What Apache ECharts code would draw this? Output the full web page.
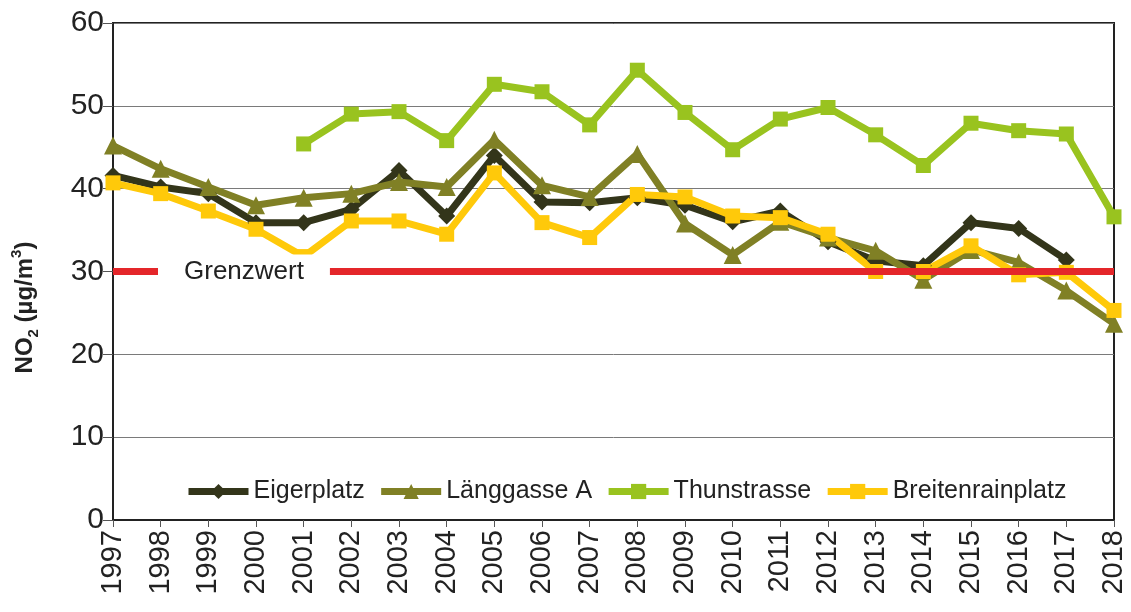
<!DOCTYPE html>
<html>
<head>
<meta charset="utf-8">
<script src="https://cdn.jsdelivr.net/npm/echarts@6/dist/echarts.min.js"></script>
<style>
  html, body { margin: 0; padding: 0; background: #fff; }
  #chart { width: 1131px; height: 612px; }
</style>
</head>
<body>
<div id="chart"></div>
<script>
const years = ['1997', '1998', '1999', '2000', '2001', '2002', '2003', '2004', '2005', '2006', '2007',
  '2008', '2009', '2010', '2011', '2012', '2013', '2014', '2015', '2016', '2017', '2018']

const eigerplatz = [41.6, 40.2, 39.4, 35.9, 35.9, 37.5, 42.2, 36.7, 44.0, 38.4, 38.3,
  38.9, 38.0, 36.0, 37.3, 33.6, 31.3, 30.7, 35.9, 35.2, 31.4, null]
const laenggasse = [45.2, 42.4, 40.2, 38.0, 38.9, 39.4, 40.8, 40.2, 45.9, 40.4, 39.0,
  44.2, 35.8, 32.0, 36.0, 34.1, 32.5, 29.0, 32.6, 31.1, 27.7, 23.7]
const thunstrasse = [null, null, null, null, 45.4, 49.0, 49.3, 45.8, 52.6, 51.7, 47.7,
  54.3, 49.2, 44.7, 48.4, 49.8, 46.5, 42.8, 47.9, 47.0, 46.6, 36.6]
const breitenrain = [40.7, 39.4, 37.3, 35.1, 31.8, 36.1, 36.1, 34.5, 41.9, 35.9, 34.1,
  39.3, 39.0, 36.7, 36.5, 34.5, 30.0, 30.0, 33.1, 29.6, 29.9, 25.3]

const grenzwert = 30

const chart = echarts.init(document.getElementById('chart'), null, { renderer: 'canvas' })

function stationSeries(name, data, color, symbol, size) {
  return {
    name: name,
    type: 'line',
    data: data,
    z: 3,
    symbol: symbol,
    symbolSize: size,
    showSymbol: true,
    connectNulls: false,
    lineStyle: { color: color, width: 7 },
    itemStyle: { color: color },
    emphasis: { disabled: true }
  }
}

const option = {
  animation: false,
  backgroundColor: '#fff',
  textStyle: { fontFamily: 'Liberation Sans, Arial, sans-serif' },
  grid: {
    left: 113,
    right: 17,
    top: 23,
    bottom: 92,
    show: true,
    borderColor: '#222',
    borderWidth: 2,
    backgroundColor: 'transparent'
  },
  legend: {
    left: 180,
    top: 474,
    itemWidth: 60,
    itemHeight: 19,
    itemGap: 13,
    data: ['Eigerplatz', 'Länggasse A', 'Thunstrasse', 'Breitenrainplatz'],
    lineStyle: { width: 7 },
    textStyle: { color: '#222', fontSize: 25 }
  },
  xAxis: {
    type: 'category',
    data: years,
    boundaryGap: false,
    axisLine: { lineStyle: { color: '#222', width: 2 } },
    axisTick: { show: true, length: 7, alignWithLabel: true, lineStyle: { color: '#555' } },
    axisLabel: { rotate: 90, color: '#222', fontSize: 29, margin: 10, interval: 0 },
    splitLine: { show: false }
  },
  yAxis: {
    type: 'value',
    min: 0,
    max: 60,
    interval: 10,
    name: 'NO{sub|2} (µg/m{sup|3})',
    nameLocation: 'middle',
    nameRotate: 90,
    nameGap: 72,
    nameTextStyle: {
      color: '#222',
      fontSize: 24,
      fontWeight: 'bold',
      lineHeight: 32,
      padding: [0, 72, 0, 0],
      rich: {
        sub: { fontSize: 15, fontWeight: 'bold', lineHeight: 15, verticalAlign: 'bottom', color: '#222' },
        sup: { fontSize: 15, fontWeight: 'bold', lineHeight: 15, verticalAlign: 'top', color: '#222' }
      }
    },
    axisLine: { show: true, lineStyle: { color: '#222', width: 2 } },
    axisTick: { show: true, length: 10, lineStyle: { color: '#555' } },
    axisLabel: { color: '#222', fontSize: 30, margin: 9 },
    splitLine: { show: true, lineStyle: { color: '#7a7a7a', width: 1 } }
  },
  series: [
    {
      name: 'Grenzwert',
      type: 'line',
      data: [],
      z: 1,
      markLine: {
        silent: true,
        symbol: 'none',
        lineStyle: { color: '#e4262a', width: 7, type: 'solid' },
        label: {
          show: true,
          position: 'insideStart',
          formatter: 'Grenzwert',
          color: '#222',
          fontSize: 26,
          backgroundColor: '#fff',
          padding: [4, 26, 4, 26],
          distance: [45, 0]
        },
        data: [{ yAxis: grenzwert }]
      }
    },
    stationSeries('Eigerplatz', eigerplatz, '#33351a', 'diamond', 17),
    stationSeries('Länggasse A', laenggasse, '#808025', 'triangle', 18),
    stationSeries('Thunstrasse', thunstrasse, '#99c31f', 'rect', 15),
    stationSeries('Breitenrainplatz', breitenrain, '#ffc90a', 'rect', 15)
  ]
}

chart.setOption(option)
</script>
</body>
</html>
